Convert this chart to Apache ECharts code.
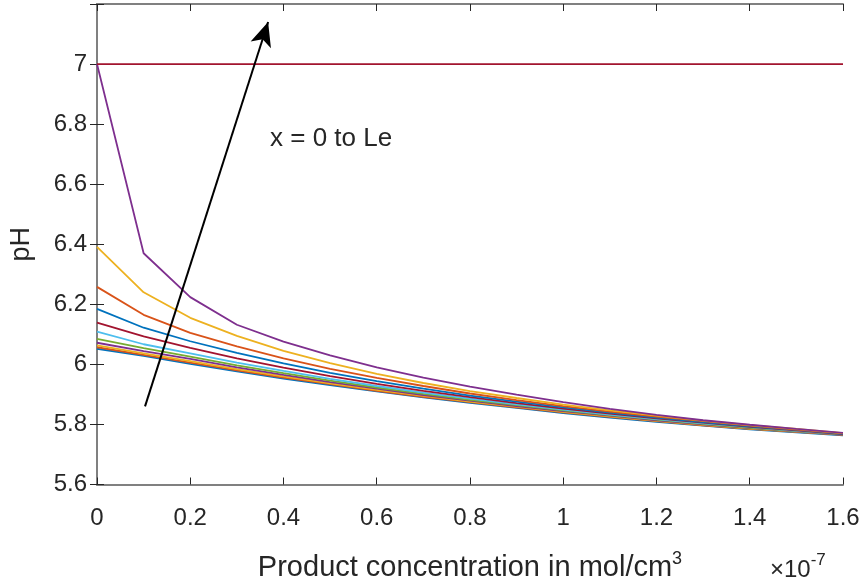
<!DOCTYPE html>
<html>
<head>
<meta charset="utf-8">
<script src="https://cdn.jsdelivr.net/npm/echarts@6/dist/echarts.min.js"></script>
<style>
  html, body { margin: 0; padding: 0; background: #fff; }
  #chart { width: 863px; height: 587px; }
</style>
</head>
<body>
<div id="chart"></div>
<script>
// concentration (x 1e-7 mol/cm3)
const conc = [0, 0.1, 0.2, 0.3, 0.4, 0.5, 0.6, 0.7, 0.8, 0.9, 1.0, 1.1, 1.2, 1.3, 1.4, 1.5, 1.6];

// pH curves, bottom to top (drawn in this order)
const ph1  = [6.052, 6.028, 6.002, 5.977, 5.953, 5.931, 5.910, 5.890, 5.872, 5.855, 5.838, 5.823, 5.809, 5.796, 5.784, 5.774, 5.764];
const ph2  = [6.057, 6.032, 6.006, 5.980, 5.956, 5.934, 5.912, 5.892, 5.874, 5.857, 5.840, 5.825, 5.811, 5.797, 5.785, 5.775, 5.765];
const ph3  = [6.063, 6.037, 6.011, 5.984, 5.960, 5.937, 5.915, 5.895, 5.876, 5.859, 5.842, 5.827, 5.812, 5.799, 5.786, 5.776, 5.766];
const ph4  = [6.072, 6.044, 6.018, 5.990, 5.965, 5.941, 5.919, 5.898, 5.879, 5.861, 5.844, 5.829, 5.814, 5.800, 5.788, 5.777, 5.766];
const ph5  = [6.085, 6.054, 6.026, 5.997, 5.971, 5.946, 5.923, 5.902, 5.882, 5.864, 5.847, 5.831, 5.816, 5.802, 5.789, 5.778, 5.767];
const ph6  = [6.109, 6.067, 6.037, 6.006, 5.978, 5.952, 5.928, 5.906, 5.886, 5.867, 5.849, 5.833, 5.818, 5.804, 5.791, 5.779, 5.768];
const ph7  = [6.139, 6.093, 6.055, 6.020, 5.989, 5.961, 5.935, 5.912, 5.891, 5.871, 5.853, 5.836, 5.820, 5.806, 5.792, 5.780, 5.768];
const ph8  = [6.185, 6.122, 6.077, 6.038, 6.003, 5.972, 5.944, 5.919, 5.896, 5.876, 5.857, 5.839, 5.823, 5.808, 5.794, 5.782, 5.769];
const ph9  = [6.258, 6.165, 6.105, 6.060, 6.020, 5.985, 5.955, 5.928, 5.903, 5.881, 5.861, 5.843, 5.826, 5.811, 5.796, 5.783, 5.770];
const ph10 = [6.391, 6.240, 6.155, 6.095, 6.045, 6.004, 5.968, 5.938, 5.911, 5.888, 5.866, 5.847, 5.829, 5.813, 5.798, 5.785, 5.771];
const ph11 = [7.000, 6.370, 6.224, 6.132, 6.076, 6.030, 5.990, 5.956, 5.926, 5.899, 5.874, 5.852, 5.832, 5.814, 5.799, 5.785, 5.772];
const phNeutral = [7, 7, 7, 7, 7, 7, 7, 7, 7, 7, 7, 7, 7, 7, 7, 7, 7];

const curves = [ph1, ph2, ph3, ph4, ph5, ph6, ph7, ph8, ph9, ph10, ph11];

// matlab default colour order
const palette = ["#0072BD", "#D95319", "#EDB120", "#7E2F8E", "#77AC30", "#4DBEEE", "#A2142F"];

// arrow from/to, in data units
const arrowFrom = [0.103, 5.86];
const arrowTo = [0.367, 7.14];

const font = "'Liberation Sans', Arial, Helvetica, sans-serif";
const txt = "#262626";
const axisCol = "#808080";

let chart = echarts.init(document.getElementById("chart"));

let series = curves.map(function (c, i) {
  return {
    type: "line",
    data: conc.map((x, j) => [x, c[j]]),
    showSymbol: false,
    lineStyle: { width: 1.8, color: palette[i % 7] },
    itemStyle: { color: palette[i % 7] },
  };
});

series.push({
  type: "line",
  data: conc.map((x, j) => [x, phNeutral[j]]),
  showSymbol: false,
  lineStyle: { width: 1.8, color: "#A2142F" },
  markLine: {
    silent: true,
    symbol: ["none", "arrow"],
    symbolSize: [16, 24],
    label: { show: false },
    lineStyle: { color: "#000", width: 2, type: "solid" },
    data: [[{ coord: arrowFrom }, { coord: arrowTo }]],
  },
});

let sideAxis = {
  axisLine: { show: true, lineStyle: { color: axisCol, width: 2 } },
  axisTick: { show: true, inside: true, length: 7, lineStyle: { color: txt } },
  splitLine: { show: false },
};

let option = {
  animation: false,
  backgroundColor: "#fff",
  grid: { left: 97, right: 20, top: 4, bottom: 102 },
  xAxis: [
    Object.assign({}, sideAxis, {
      type: "value",
      min: 0,
      max: 1.6,
      interval: 0.2,
      position: "bottom",
      name: "{a|Product concentration in mol/cm}{s|3}",
      nameLocation: "middle",
      nameGap: 66,
      nameTextStyle: {
        rich: {
          a: { fontFamily: font, fontSize: 29, color: txt, lineHeight: 34 },
          s: { fontFamily: font, fontSize: 18, color: txt, verticalAlign: "top", lineHeight: 34 },
        },
      },
      axisLabel: { fontFamily: font, fontSize: 24, color: txt, margin: 22 },
    }),
    Object.assign({}, sideAxis, {
      type: "value",
      min: 0,
      max: 1.6,
      interval: 0.2,
      position: "top",
      axisLabel: { show: false },
    }),
  ],
  yAxis: [
    Object.assign({}, sideAxis, {
      type: "value",
      min: 5.6,
      max: 7.2,
      interval: 0.2,
      position: "left",
      name: "pH",
      nameLocation: "middle",
      nameGap: 62,
      nameTextStyle: { fontFamily: font, fontSize: 27, color: txt },
      axisLabel: {
        fontFamily: font,
        fontSize: 24,
        color: txt,
        margin: 10,
        formatter: (v) => (v > 7.1 ? "" : v),
      },
    }),
    Object.assign({}, sideAxis, {
      type: "value",
      min: 5.6,
      max: 7.2,
      interval: 0.2,
      position: "right",
      axisLabel: { show: false },
    }),
  ],
  graphic: [
    {
      type: "text",
      left: 270,
      top: 126,
      style: { text: "x = 0 to Le", font: "26px " + font, fill: txt },
    },
    {
      type: "text",
      left: 770,
      top: 552,
      style: {
        text: "{a|×10}{s|-7}",
        rich: {
          a: { fontFamily: font, fontSize: 24, fill: txt, lineHeight: 30, verticalAlign: "bottom" },
          s: { fontFamily: font, fontSize: 17, fill: txt, lineHeight: 30, verticalAlign: "top" },
        },
      },
    },
  ],
  series: series,
};

chart.setOption(option);
</script>
</body>
</html>
